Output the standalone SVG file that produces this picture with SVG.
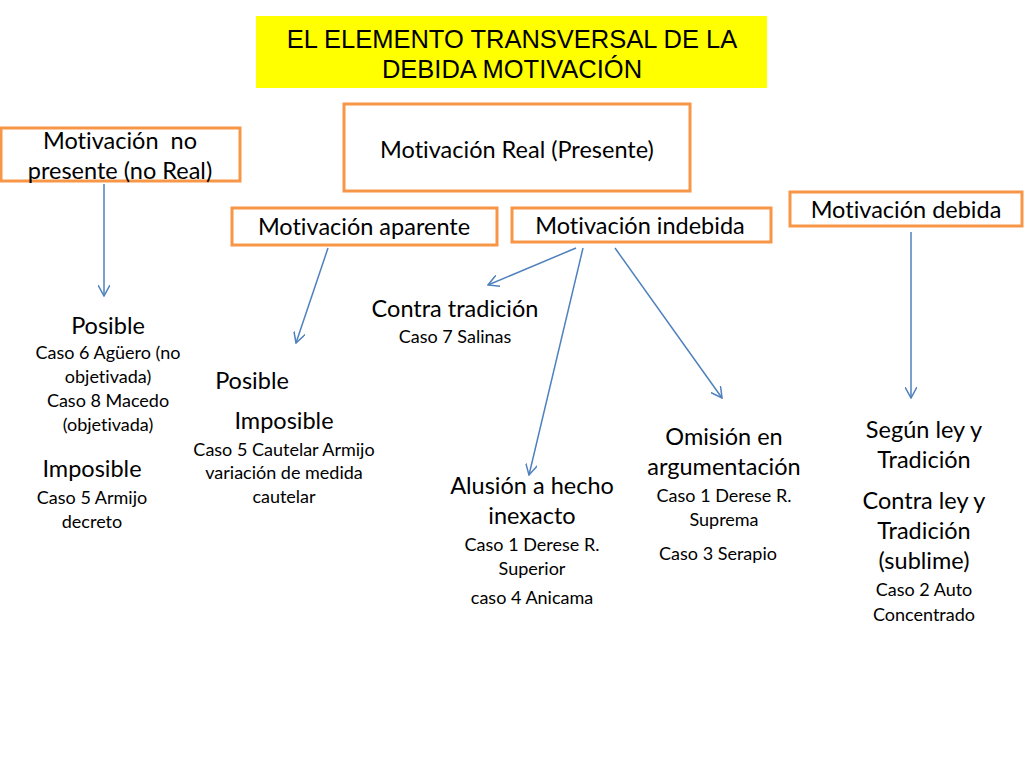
<svg xmlns="http://www.w3.org/2000/svg" width="1024" height="768" viewBox="0 0 1024 768">
<defs>
<style>
.box{fill:#fff;stroke:#F79646;stroke-width:3}
.t{font-family:Lato,"Open Sans","Liberation Sans",sans-serif;fill:#000;text-anchor:middle;font-variant-ligatures:none}
.b{font-size:23.5px}
.s{font-size:18px}
.title{font-family:"Liberation Sans",Arial,sans-serif;font-size:25.5px;text-anchor:middle;fill:#000}
.c{stroke:#4F81BD;stroke-width:1.5;fill:none;marker-end:url(#ah)}
</style>
<marker id="ah" viewBox="0 0 12 12" refX="11" refY="6" markerWidth="12" markerHeight="12" markerUnits="userSpaceOnUse" orient="auto">
<path d="M0,0 L11,6 L0,12" fill="none" stroke="#4F81BD" stroke-width="1.5"/>
</marker>
</defs>
<rect width="1024" height="768" fill="#fff"/>
<g id="title">
<rect x="256" y="16" width="511" height="72" fill="#FFFF00"/>
<text class="title" x="512" y="48">EL ELEMENTO TRANSVERSAL DE LA</text>
<text class="title" x="512" y="78">DEBIDA MOTIVACIÓN</text>
</g>
<g id="connectors">
<line class="c" x1="104" y1="184" x2="104" y2="296"/>
<line class="c" x1="328" y1="248" x2="296" y2="343"/>
<line class="c" x1="576" y1="248" x2="488" y2="285"/>
<line class="c" x1="583" y1="248" x2="529" y2="475"/>
<line class="c" x1="615" y1="248" x2="722" y2="398"/>
<line class="c" x1="911" y1="232" x2="911" y2="398"/>
</g>
<g id="no-real">
<rect class="box" x="1" y="128" width="239" height="53"/>
<text class="t b" x="120" y="149">Motivación&#160; no</text>
<text class="t b" x="120" y="179">presente (no Real)</text>
</g>
<g id="real">
<rect class="box" x="344" y="104" width="346" height="87"/>
<text class="t b" x="517" y="158">Motivación Real (Presente)</text>
</g>
<g id="aparente">
<rect class="box" x="232" y="208" width="265" height="37"/>
<text class="t b" x="364" y="235">Motivación aparente</text>
</g>
<g id="indebida">
<rect class="box" x="512" y="208" width="259" height="34"/>
<text class="t b" x="640" y="234">Motivación indebida</text>
</g>
<g id="debida">
<rect class="box" x="790" y="192" width="232" height="34"/>
<text class="t b" x="906" y="218">Motivación debida</text>
</g>
<g id="no-real-posible">
<text class="t b" x="108" y="334">Posible</text>
<text class="t s" x="108" y="359">Caso 6 Agüero (no</text>
<text class="t s" x="108" y="383">objetivada)</text>
<text class="t s" x="108" y="407">Caso 8 Macedo</text>
<text class="t s" x="108" y="431">(objetivada)</text>
</g>
<g id="no-real-imposible">
<text class="t b" x="92" y="477">Imposible</text>
<text class="t s" x="92" y="504">Caso 5 Armijo</text>
<text class="t s" x="92" y="528">decreto</text>
</g>
<g id="aparente-posible">
<text class="t b" x="252" y="389">Posible</text>
</g>
<g id="aparente-imposible">
<text class="t b" x="284" y="429">Imposible</text>
<text class="t s" x="284" y="456">Caso 5 Cautelar Armijo</text>
<text class="t s" x="284" y="479">variación de medida</text>
<text class="t s" x="284" y="503">cautelar</text>
</g>
<g id="contra-tradicion">
<text class="t b" x="455" y="317">Contra tradición</text>
<text class="t s" x="455" y="343">Caso 7 Salinas</text>
</g>
<g id="alusion">
<text class="t b" x="532" y="494">Alusión a hecho</text>
<text class="t b" x="532" y="524">inexacto</text>
<text class="t s" x="532" y="551">Caso 1 Derese R.</text>
<text class="t s" x="532" y="575">Superior</text>
<text class="t s" x="532" y="604">caso 4 Anicama</text>
</g>
<g id="omision">
<text class="t b" x="724" y="445">Omisión en</text>
<text class="t b" x="724" y="475">argumentación</text>
<text class="t s" x="724" y="502">Caso 1 Derese R.</text>
<text class="t s" x="724" y="526">Suprema</text>
<text class="t s" x="718" y="560">Caso 3 Serapio</text>
</g>
<g id="segun-ley">
<text class="t b" x="924" y="438">Según ley y</text>
<text class="t b" x="924" y="468">Tradición</text>
</g>
<g id="contra-ley">
<text class="t b" x="924" y="509">Contra ley y</text>
<text class="t b" x="924" y="539">Tradición</text>
<text class="t b" x="924" y="569">(sublime)</text>
<text class="t s" x="924" y="596">Caso 2 Auto</text>
<text class="t s" x="924" y="621">Concentrado</text>
</g>
</svg>
